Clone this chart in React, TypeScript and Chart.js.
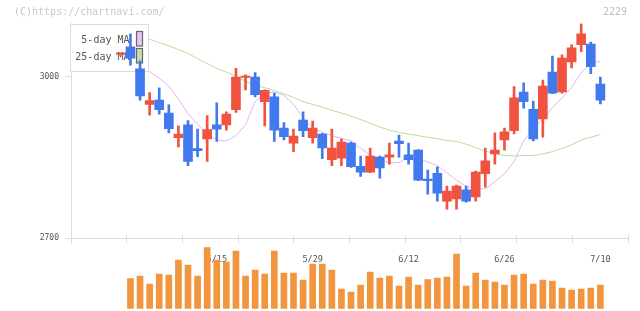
import { useEffect, useRef } from 'react';
import { Chart, registerables } from 'chart.js';

Chart.register(...registerables);

// ---- data ----
const dates = ['4/26', '4/30', '5/1', '5/2', '5/7', '5/8', '5/9', '5/10', '5/13', '5/14', '5/15', '5/16', '5/17', '5/20', '5/21', '5/22', '5/23', '5/24', '5/27', '5/28', '5/29', '5/30', '5/31', '6/3', '6/4', '6/5', '6/6', '6/7', '6/10', '6/11', '6/12', '6/13', '6/14', '6/17', '6/18', '6/19', '6/20', '6/21', '6/24', '6/25', '6/26', '6/27', '6/28', '7/1', '7/2', '7/3', '7/4', '7/5', '7/8', '7/9', '7/10'];
const opens = [3042, 3056, 3015, 2949, 2957, 2933, 2887, 2911, 2867, 2885, 2911, 2911, 2939, 2999, 3000, 2954, 2963, 2905, 2877, 2920, 2887, 2894, 2846, 2849, 2877, 2834, 2823, 2851, 2851, 2881, 2855, 2864, 2810, 2821, 2769, 2773, 2790, 2777, 2820, 2857, 2883, 2900, 2972, 2940, 2922, 3009, 2972, 3028, 3060, 3061, 2987];
const highs = [3043, 3080, 3030, 2971, 2980, 2948, 2909, 2919, 2903, 2928, 2952, 2935, 3016, 3004, 3008, 2976, 2970, 2915, 2903, 2935, 2918, 2895, 2903, 2885, 2879, 2853, 2868, 2853, 2877, 2892, 2877, 2865, 2827, 2833, 2797, 2799, 2797, 2825, 2868, 2896, 2905, 2982, 2989, 2955, 2994, 3039, 3041, 3060, 3099, 3065, 3000];
const lows = [3042, 3022, 2957, 2929, 2931, 2896, 2870, 2835, 2852, 2843, 2880, 2901, 2934, 2976, 2963, 2909, 2880, 2883, 2861, 2889, 2877, 2848, 2835, 2835, 2832, 2815, 2822, 2812, 2838, 2851, 2838, 2807, 2782, 2769, 2754, 2754, 2767, 2769, 2795, 2838, 2864, 2894, 2942, 2881, 2888, 2969, 2970, 3017, 3047, 3006, 2950];
const closes = [3043, 3035, 2965, 2956, 2939, 2904, 2894, 2843, 2863, 2902, 2903, 2931, 3000, 3001, 2967, 2975, 2901, 2889, 2890, 2900, 2905, 2868, 2868, 2879, 2833, 2823, 2853, 2831, 2855, 2876, 2846, 2808, 2807, 2784, 2788, 2797, 2769, 2823, 2844, 2864, 2898, 2961, 2954, 2885, 2983, 2970, 3035, 3054, 3080, 3019, 2957];
const volumes = [null, 300, 327, 247, 347, 337, 487, 437, 327, 610, 487, 467, 577, 327, 387, 347, 577, 357, 357, 287, 447, 447, 387, 197, 167, 237, 367, 307, 327, 227, 317, 237, 290, 307, 317, 547, 227, 357, 287, 267, 237, 337, 347, 247, 287, 277, 207, 187, 197, 207, 237];
const ma5 = [null, null, 3018, 3010, 2998, 2983, 2959, 2932, 2912, 2894, 2883, 2881, 2891, 2911, 2954, 2970, 2972, 2966, 2949, 2925, 2905, 2897, 2891, 2886, 2881, 2867, 2855, 2846, 2840, 2841, 2850, 2849, 2842, 2835, 2822, 2808, 2797, 2792, 2792, 2805, 2820, 2843, 2881, 2904, 2922, 2943, 2961, 2981, 3008, 3026, 3029];
const ma25 = [null, null, 3074, 3070, 3064, 3058, 3051, 3044, 3034, 3025, 3016, 3009, 3001, 2992, 2985, 2980, 2975, 2969, 2962, 2954, 2949, 2944, 2938, 2933, 2927, 2921, 2914, 2907, 2901, 2897, 2894, 2891, 2888, 2885, 2882, 2880, 2875, 2869, 2862, 2858, 2854, 2853, 2854, 2854, 2857, 2861, 2867, 2874, 2883, 2888, 2893];
const priceTicks = [2700, 3000];
const labelDates = ['5/15', '5/29', '6/12', '6/26', '7/10'];
const legendLabels = ['5-day MA', '25-day MA'];
const siteLabel = '(C)https://chartnavi.com/';
const codeLabel = '2229';

// ---- style ----
const UP = '#f0533f';
const DOWN = '#4279ee';
const VOL = '#f1953f';
const MA5C = '#e6b4ec';
const MA25C = '#b6dca4';
const MA5F = '#ecc4f0';
const MA25F = '#c2dfae';
const FONT = 'DejaVu Sans Mono';
const X_MIN = -5.2;
const X_MAX = 52.88;
const Y_MIN = 2690.7;
const Y_MAX = 3100;
const V_MAX = 654;

const overlay = {
  id: 'overlay',
  beforeDraw(chart: any) {
    const ctx = chart.ctx;
    ctx.save();
    ctx.font = `10px ${FONT}`;
    ctx.textBaseline = 'middle';
    ctx.textAlign = 'left';
    ctx.fillStyle = '#c8c8c8';
    ctx.fillText(siteLabel, 14, 12.5);
    ctx.textAlign = 'right';
    ctx.fillStyle = '#c0c0c0';
    ctx.fillText(codeLabel, 627, 12.5);
    ctx.restore();
  },
  afterDatasetDraw(chart: any, args: any) {
    if (args.index !== 2) return;
    const ctx = chart.ctx;
    ctx.save();
    ctx.fillStyle = '#ffffff';
    ctx.fillRect(70.5, 24.5, 78, 47);
    ctx.strokeStyle = '#dcdcdc';
    ctx.lineWidth = 1;
    ctx.strokeRect(70.5, 24.5, 78, 47);
    ctx.font = `10px ${FONT}`;
    ctx.textBaseline = 'middle';
    ctx.textAlign = 'right';
    ctx.fillStyle = '#555555';
    ctx.fillText(legendLabels[0], 129.5, 40);
    ctx.fillText(legendLabels[1], 129.5, 57);
    ctx.lineWidth = 1.2;
    ctx.strokeStyle = '#666666';
    ctx.fillStyle = MA5F;
    ctx.fillRect(136.5, 31.5, 6, 14.5);
    ctx.strokeRect(136.5, 31.5, 6, 14.5);
    ctx.fillStyle = MA25F;
    ctx.fillRect(136.5, 48.5, 6, 14.5);
    ctx.strokeRect(136.5, 48.5, 6, 14.5);
    ctx.restore();
  },
};

const zeroPad = (s: any) => {
  s.paddingLeft = 0;
  s.paddingRight = 0;
  s.paddingTop = 0;
  s.paddingBottom = 0;
};

export default function App() {
  const ref = useRef<HTMLCanvasElement | null>(null);
  useEffect(() => {
    if (!ref.current) return;
    const idx = dates.map((_, i) => i);
    const candleColors = idx.map((i) => (closes[i] >= opens[i] ? UP : DOWN));
    const chart = new Chart(ref.current, {
      type: 'bar',
      data: {
        datasets: [
          {
            type: 'bar',
            label: 'Volume',
            data: idx.map((i) => ({ x: i, y: volumes[i] })) as any,
            backgroundColor: VOL,
            grouped: false,
            barPercentage: 1,
            categoryPercentage: 1,
            maxBarThickness: 6,
            borderWidth: 0,
            xAxisID: 'x',
            yAxisID: 'yv',
            order: 5,
          } as any,
          {
            type: 'line',
            label: legendLabels[1],
            data: idx.map((i) => ({ x: i, y: ma25[i] })) as any,
            borderColor: MA25C,
            borderWidth: 1,
            pointRadius: 0,
            tension: 0,
            fill: false,
            xAxisID: 'x',
            yAxisID: 'y',
            order: 4,
          } as any,
          {
            type: 'line',
            label: legendLabels[0],
            data: idx.map((i) => ({ x: i, y: ma5[i] })) as any,
            borderColor: MA5C,
            borderWidth: 1,
            pointRadius: 0,
            tension: 0,
            fill: false,
            xAxisID: 'x',
            yAxisID: 'y',
            order: 3,
          } as any,
          {
            type: 'bar',
            label: 'Wick',
            data: idx.map((i) => ({ x: i, y: [lows[i], highs[i]] })) as any,
            backgroundColor: candleColors,
            grouped: false,
            barPercentage: 1,
            categoryPercentage: 1,
            maxBarThickness: 2,
            minBarLength: 1,
            borderWidth: 0,
            xAxisID: 'x',
            yAxisID: 'y',
            order: 2,
          } as any,
          {
            type: 'bar',
            label: 'Body',
            data: idx.map((i) => ({ x: i, y: [opens[i], closes[i]] })) as any,
            backgroundColor: candleColors,
            grouped: false,
            barPercentage: 1,
            categoryPercentage: 1,
            maxBarThickness: 9,
            minBarLength: 1.5,
            borderWidth: 0,
            xAxisID: 'x',
            yAxisID: 'y',
            order: 1,
          } as any,
        ],
      },
      options: {
        animation: false,
        responsive: false,
        devicePixelRatio: 1,
        events: [],
        layout: { padding: { top: 23.2, bottom: 2.3, left: 0, right: 12 } },
        plugins: { legend: { display: false }, tooltip: { enabled: false } },
        scales: {
          x: {
            type: 'linear',
            axis: 'x',
            min: X_MIN,
            max: X_MAX,
            offset: false,
            position: { y: 2700 },
            afterBuildTicks: (s: any) => {
              s.ticks = labelDates.map((d) => ({ value: dates.indexOf(d) }));
            },
            afterFit: zeroPad,
            ticks: {
              autoSkip: false,
              maxRotation: 0,
              padding: 8.6,
              color: '#555555',
              font: { family: FONT, size: 8.5 },
              callback: (v: any) => dates[v] ?? '',
            },
            grid: { display: false, offset: false },
            border: { display: false },
          },
          xg: {
            type: 'linear',
            axis: 'x',
            min: X_MIN,
            max: X_MAX,
            offset: false,
            position: { y: 2706.1 },
            afterBuildTicks: (s: any) => {
              const t = [];
              for (let k = 0; k <= 10; k++) t.push({ value: X_MIN + ((X_MAX - X_MIN) * k) / 10 });
              s.ticks = t;
            },
            afterFit: zeroPad,
            ticks: { display: false },
            grid: { display: true, drawOnChartArea: false, drawTicks: true, tickLength: 8, color: '#dcdcdc', offset: false },
            border: { display: false },
          },
          yv: {
            type: 'linear',
            axis: 'y',
            position: 'left',
            stack: 'main',
            stackWeight: 65.4,
            weight: 1,
            min: 0,
            max: V_MAX,
            afterFit: (s: any) => {
              s.width = 71;
              zeroPad(s);
            },
            ticks: { display: false },
            grid: { display: false },
            border: { display: false },
          },
          y: {
            type: 'linear',
            axis: 'y',
            position: 'left',
            stack: 'main',
            stackWeight: 220.1,
            weight: 2,
            min: Y_MIN,
            max: Y_MAX,
            afterBuildTicks: (s: any) => {
              s.ticks = priceTicks.map((v) => ({ value: v }));
            },
            afterFit: (s: any) => {
              s.width = 71;
              zeroPad(s);
            },
            ticks: {
              padding: 6,
              color: '#555555',
              font: { family: FONT, size: 8 },
              callback: (v: any) => String(v),
            },
            grid: {
              color: (c: any) => (c.tick && c.tick.value === 2700 ? '#dcdcdc' : 'rgba(0,0,0,0)'),
              tickColor: '#dcdcdc',
              tickLength: 6,
              lineWidth: 1,
            },
            border: { display: true, color: '#dcdcdc', width: 1 },
          },
        } as any,
      },
      plugins: [overlay],
    } as any);
    return () => chart.destroy();
  }, []);
  return (
    <div style={{ position: 'fixed', left: 0, top: 0, width: 640, height: 311, background: '#fff' }}>
      <canvas ref={ref} width={640} height={311} style={{ display: 'block' }} />
    </div>
  );
}
